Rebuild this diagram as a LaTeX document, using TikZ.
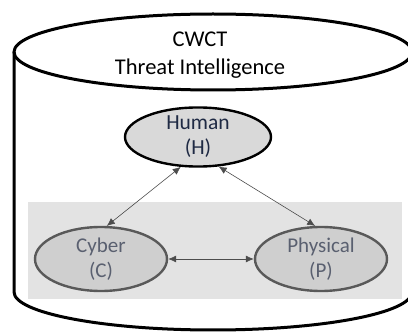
\documentclass[tikz,border=0pt]{standalone}
\usepackage{fontspec}
\setmainfont{Carlito}
\usetikzlibrary{shapes.geometric,arrows.meta}
\definecolor{navy}{HTML}{1F2A44}
\definecolor{slate}{HTML}{5A6070}
\begin{document}
\begin{tikzpicture}[x=1pt,y=-1pt,
  cyl/.style={line width=3pt,black},
  hnode/.style={ellipse,draw=black,line width=2.4pt,fill=gray!30,minimum width=146pt,minimum height=58pt,inner sep=0pt,align=center,text=navy,font=\fontsize{21.5}{25}\selectfont},
  snode/.style={ellipse,draw=black!65,line width=2.4pt,fill=gray!38,minimum width=132pt,minimum height=64pt,inner sep=0pt,align=center,text=slate,font=\fontsize{21}{25}\selectfont},
  link/.style={black!70,line width=0.6pt,{Latex[length=8pt,width=7pt]}-{Latex[length=8pt,width=7pt]}}
]
\useasboundingbox (0,0) rectangle (408,334);
% cylinder body
\draw[cyl] (14,52) -- (14,292) arc[start angle=180,end angle=0,x radius=199,y radius=38] -- (412,52);
\draw[cyl] (213,52) ellipse[x radius=199,y radius=38];
\node[font=\fontsize{22.5}{28}\selectfont,align=center] (title) at (200,55) {CWCT\\Threat Intelligence};
% shaded region
\fill[gray!22] (28,202) rectangle (402,299);
\node[hnode] (H) at (198,137) {Human\\(H)};
\node[snode] (C) at (101,259) {Cyber\\(C)};
\node[snode] (P) at (321,259) {Physical\\(P)};
\draw[link] (C.80) -- (H.240);
\draw[link] (P.100) -- (H.305);
\draw[link] (C) -- (P);
\end{tikzpicture}
\end{document}
